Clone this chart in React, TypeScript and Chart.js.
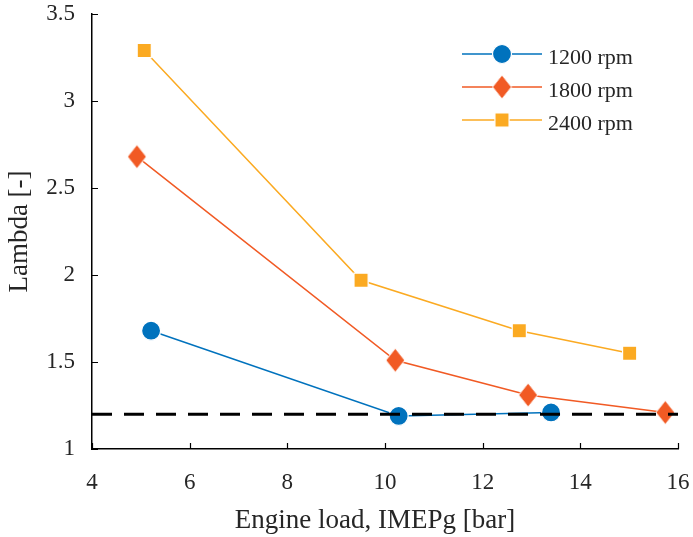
import React, { useEffect, useRef } from "react";
import { Chart, registerables } from "chart.js";

Chart.register(...registerables);

const seriesNames = ["1200 rpm", "1800 rpm", "2400 rpm"];
const load1200 = [5.21, 10.28, 13.4];
const lambda1200 = [1.68, 1.19, 1.21];
const load1800 = [4.92, 10.21, 12.93, 15.74];
const lambda1800 = [2.68, 1.51, 1.31, 1.21];
const load2400 = [5.07, 9.51, 12.75, 15.01];
const lambda2400 = [3.29, 1.97, 1.68, 1.55];
const refLoad = [4, 16];
const refLambda = [1.2, 1.2];
const xTicks = [4, 6, 8, 10, 12, 14, 16];
const yTicks = [1, 1.5, 2, 2.5, 3, 3.5];
const xTitle = "Engine load, IMEPg [bar]";
const yTitle = "Lambda [-]";

const BLUE = "#0072BD";
const ORANGE = "#F15A24";
const YELLOW = "#FBAA22";
const FONT = "'Liberation Serif', 'DejaVu Serif', serif";
const TEXT = "#262626";

const toPts = (xs: number[], ys: number[]) => xs.map((x, i) => ({ x, y: ys[i] }));

function makeDiamond(color: string, w: number, h: number) {
  const c = document.createElement("canvas");
  c.width = w + 2;
  c.height = h + 2;
  const g = c.getContext("2d")!;
  const cx = c.width / 2;
  const cy = c.height / 2;
  g.beginPath();
  g.moveTo(cx, cy - h / 2);
  g.lineTo(cx + w / 2, cy);
  g.lineTo(cx, cy + h / 2);
  g.lineTo(cx - w / 2, cy);
  g.closePath();
  g.fillStyle = color;
  g.fill();
  g.strokeStyle = "#fff";
  g.lineWidth = 1;
  g.stroke();
  return c;
}

const innerTicks = {
  id: "innerTicks",
  afterDatasetsDraw(chart: any) {
    const { ctx, chartArea, scales } = chart;
    const len = 6;
    ctx.save();
    ctx.strokeStyle = "#000";
    ctx.lineWidth = 1.2;
    ctx.beginPath();
    xTicks.forEach((v) => {
      const px = Math.round(scales.x.getPixelForValue(v)) + 0.5;
      ctx.moveTo(px, chartArea.bottom);
      ctx.lineTo(px, chartArea.bottom - len);
    });
    yTicks.forEach((v) => {
      const py = Math.round(scales.y.getPixelForValue(v)) + 0.5;
      ctx.moveTo(chartArea.left, py);
      ctx.lineTo(chartArea.left + len, py);
    });
    ctx.stroke();
    ctx.fillStyle = TEXT;
    ctx.font = `27px ${FONT}`;
    ctx.textAlign = "center";
    ctx.textBaseline = "middle";
    ctx.fillText(xTitle, 375, 521);
    ctx.restore();
  },
};

const lineLegend = {
  id: "lineLegend",
  afterDraw(chart: any) {
    const { ctx } = chart;
    const rows = [54, 87, 120];
    const x0 = 462;
    const x1 = 542;
    const mx = 502;
    ctx.save();
    seriesNames.forEach((name, i) => {
      const ds = chart.data.datasets[i + 1];
      const y = rows[i];
      ctx.strokeStyle = ds.borderColor;
      ctx.lineWidth = 1.5;
      ctx.beginPath();
      ctx.moveTo(x0, y);
      ctx.lineTo(x1, y);
      ctx.stroke();
      const ps = ds.pointStyle;
      if (ps instanceof HTMLCanvasElement) {
        ctx.drawImage(ps, mx - ps.width / 2, y - ps.height / 2);
      } else {
        ctx.fillStyle = ds.pointBackgroundColor;
        ctx.strokeStyle = "#fff";
        ctx.lineWidth = 1.2;
        ctx.beginPath();
        const r = ds.pointRadius;
        if (ps === "circle") {
          ctx.arc(mx, y, r, 0, Math.PI * 2);
        } else {
          const s = r * Math.SQRT1_2;
          ctx.rect(mx - s, y - s, 2 * s, 2 * s);
        }
        ctx.fill();
        ctx.stroke();
      }
      ctx.fillStyle = TEXT;
      ctx.font = `22px ${FONT}`;
      ctx.textBaseline = "middle";
      ctx.textAlign = "left";
      ctx.fillText(name, 548, y + 4);
    });
    ctx.restore();
  },
};

export default function App() {
  const ref = useRef<HTMLCanvasElement>(null);
  useEffect(() => {
    document.body.style.margin = "0";
    const diamond = makeDiamond(ORANGE, 19, 24);
    const chart = new Chart(ref.current!, {
      type: "scatter",
      data: {
        datasets: [
          {
            label: "ref",
            data: toPts(refLoad, refLambda),
            showLine: true,
            borderColor: "#000",
            borderWidth: 3,
            borderDash: [20, 12],
            pointRadius: 0,
            order: -1,
          },
          {
            label: seriesNames[0],
            data: toPts(load1200, lambda1200),
            showLine: true,
            borderColor: BLUE,
            borderWidth: 1.5,
            pointStyle: "circle",
            pointRadius: 9.5,
            pointBackgroundColor: BLUE,
            pointBorderColor: "#fff",
            pointBorderWidth: 1.2,
          },
          {
            label: seriesNames[1],
            data: toPts(load1800, lambda1800),
            showLine: true,
            borderColor: ORANGE,
            borderWidth: 1.5,
            pointStyle: diamond,
            pointRadius: 10,
            pointBackgroundColor: ORANGE,
          },
          {
            label: seriesNames[2],
            data: toPts(load2400, lambda2400),
            showLine: true,
            borderColor: YELLOW,
            borderWidth: 1.5,
            pointStyle: "rect",
            pointRadius: 10,
            pointBackgroundColor: YELLOW,
            pointBorderColor: "#fff",
            pointBorderWidth: 1.2,
          },
        ],
      },
      options: {
        animation: false,
        responsive: true,
        maintainAspectRatio: false,
        layout: { padding: { left: 0, top: 14, right: 15, bottom: 0 } },
        plugins: { legend: { display: false }, tooltip: { enabled: false } },
        scales: {
          x: {
            type: "linear",
            min: 4,
            max: 16,
            afterBuildTicks: (s: any) => {
              s.ticks = xTicks.map((v) => ({ value: v }));
            },
            afterFit: (s: any) => {
              s.height = 88;
              s.paddingLeft = 0;
              s.paddingRight = 0;
            },
            grid: { display: true, drawOnChartArea: false, drawTicks: false },
            border: { display: true, color: "#000", width: 1.5 },
            ticks: {
              color: TEXT,
              font: { family: FONT, size: 23 },
              padding: 20,
              maxRotation: 0,
              callback: (v: any) => String(v),
            },
          },
          y: {
            type: "linear",
            min: 1,
            max: 3.5,
            afterBuildTicks: (s: any) => {
              s.ticks = yTicks.map((v) => ({ value: v }));
            },
            afterFit: (s: any) => {
              s.width = 92;
              s.paddingTop = 0;
              s.paddingBottom = 0;
            },
            grid: { display: true, drawOnChartArea: false, drawTicks: false },
            border: { display: true, color: "#000", width: 1.5 },
            ticks: {
              color: TEXT,
              font: { family: FONT, size: 23 },
              padding: 17,
              callback: (v: any) => String(v),
            },
            title: {
              display: true,
              text: yTitle,
              color: TEXT,
              font: { family: FONT, size: 27 },
              padding: { top: 4, bottom: 0 },
            },
          },
        },
      },
      plugins: [innerTicks, lineLegend],
    });
    return () => chart.destroy();
  }, []);
  return (
    <div style={{ width: 693, height: 537, position: "relative" }}>
      <canvas ref={ref} />
    </div>
  );
}
